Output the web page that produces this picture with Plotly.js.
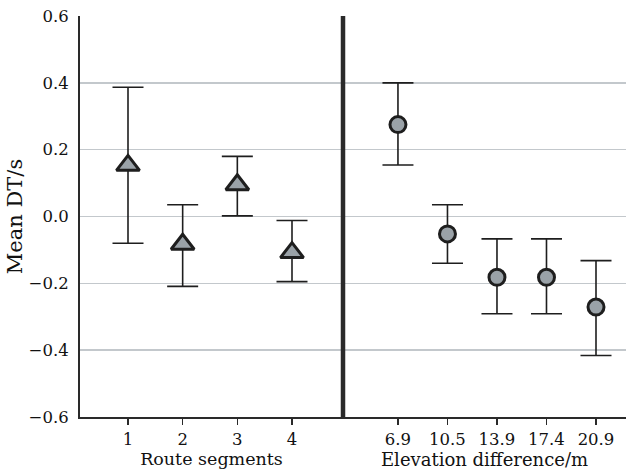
<!DOCTYPE html>
<html>
<head>
<meta charset="utf-8">
<script src="https://cdn.plot.ly/plotly-3.0.1.min.js"></script>
<style>html,body{margin:0;padding:0;background:#fff;}#chart{width:626px;height:474px;}</style>
</head>
<body>
<div id="chart"></div>
<script>
// Left panel: route segments
const segments = [1, 2, 3, 4];
const segMean  = [0.153, -0.083, 0.095, -0.108];
const segUpper = [0.387, 0.035, 0.180, -0.012];
const segLower = [-0.080, -0.209, 0.002, -0.195];

// Right panel: elevation difference (m)
const elevLabels = ['6.9', '10.5', '13.9', '17.4', '20.9'];
const elevMean  = [0.275, -0.052, -0.182, -0.182, -0.271];
const elevUpper = [0.400, 0.035, -0.067, -0.067, -0.132];
const elevLower = [0.154, -0.140, -0.291, -0.291, -0.416];

const yTicks = [-0.6, -0.4, -0.2, 0.0, 0.2, 0.4, 0.6];

const FONT = 'DejaVu Serif, serif';
const DARK = '#1e1e1e';
const FILL = '#9aa2a8';
const split = (343 - 80) / 546;

const errStyle = (up, lo, mean) => ({
  type: 'data', symmetric: false,
  array: up.map((u, i) => u - mean[i]),
  arrayminus: lo.map((l, i) => mean[i] - l),
  color: DARK, thickness: 1.6, width: 15.5
});

const traces = [
  {
    x: segments, y: segMean, xaxis: 'x', yaxis: 'y',
    type: 'scatter', mode: 'markers',
    marker: {symbol: 'triangle-up', size: 20, color: FILL, line: {color: DARK, width: 3}},
    error_y: errStyle(segUpper, segLower, segMean),
    showlegend: false
  },
  {
    x: elevLabels, y: elevMean, xaxis: 'x2', yaxis: 'y',
    type: 'scatter', mode: 'markers',
    marker: {symbol: 'circle', size: 16, color: FILL, line: {color: DARK, width: 3}},
    error_y: errStyle(elevUpper, elevLower, elevMean),
    showlegend: false
  }
];

const xCommon = {
  showgrid: false, zeroline: false,
  showline: true, linecolor: '#2a2a2a', linewidth: 2,
  ticks: 'outside', ticklen: 6, tickcolor: '#2a2a2a', tickwidth: 1.2,
  tickfont: {family: FONT, size: 16.5, color: '#111'},
  anchor: 'y'
};

const layout = {
  width: 626, height: 474,
  margin: {l: 80, r: 0, t: 16, b: 57},
  paper_bgcolor: '#fff', plot_bgcolor: '#fff',
  font: {family: FONT, color: '#111'},
  xaxis: Object.assign({}, xCommon, {
    domain: [0, split], range: [0.122, 4.933],
    tickvals: segments, ticktext: segments.map(String),
    title: {text: 'Route segments', font: {family: FONT, size: 17.5, color: '#111'}, standoff: 3}
  }),
  xaxis2: Object.assign({}, xCommon, {
    domain: [split, 1], type: 'category',
    categoryorder: 'array', categoryarray: elevLabels,
    range: [-1.11, 4.606],
    title: {text: 'Elevation difference/m', font: {family: FONT, size: 18, color: '#111'}, standoff: 3}
  }),
  yaxis: {
    range: [-0.6, 0.6], tickvals: yTicks, tickformat: '.1f',
    showgrid: true, gridcolor: '#c3c8cc', gridwidth: 1.5,
    zeroline: false,
    showline: true, linecolor: '#2a2a2a', linewidth: 2,
    ticks: '', ticklabelstandoff: 6,
    tickfont: {family: FONT, size: 16.5, color: '#111'},
    title: {text: 'Mean DT/s', font: {family: FONT, size: 21, color: '#111'}, standoff: 0}
  },
  shapes: [
    {type: 'line', xref: 'paper', yref: 'paper', x0: split, x1: split, y0: 0, y1: 1,
     line: {color: '#2a2a2a', width: 4.5}}
  ]
};

Plotly.newPlot('chart', traces, layout, {displayModeBar: false, staticPlot: true});
</script>
</body>
</html>
